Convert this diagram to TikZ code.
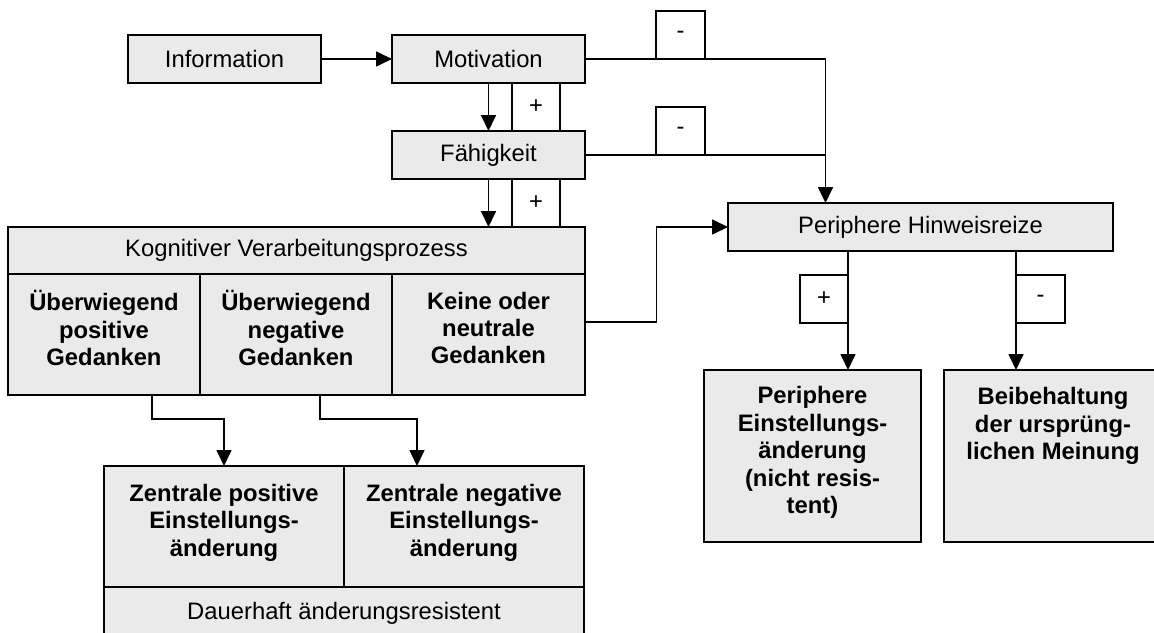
\documentclass[tikz,border=0pt]{standalone}
\usepackage{fontspec}
\setmainfont{Liberation Sans}
\usetikzlibrary{arrows.meta}
\definecolor{boxfill}{RGB}{234,234,234}
\begin{document}
\begin{tikzpicture}[x=1pt,y=-1pt,
  every node/.style={inner sep=0pt, outer sep=0pt},
  txt/.style={font=\fontsize{23.8}{27.4}\selectfont, align=center},
  boldtxt/.style={font=\fontsize{23.8}{27.4}\selectfont\bfseries, align=center},
  cell/.style={draw, line width=1.7pt, fill=boxfill, rectangle},
  signbox/.style={draw, line width=1.7pt, fill=white, rectangle,
    minimum width=48pt, minimum height=48pt, txt},
  conn/.style={line width=1.7pt},
  arr/.style={conn, -{Triangle[length=16pt,width=15pt]}}]
\useasboundingbox (0,0) rectangle (1154,632);
\clip (0,0) rectangle (1154,632);

% sign boxes sit behind the connectors
\node[signbox, minimum width=49pt] (m1) at (680.5,35) {-};
\node[signbox, minimum width=49pt] (m2) at (680.5,131) {-};
\node[signbox] (p1) at (536,107) {+};
\node[signbox] (p2) at (536,203) {+};
\node[signbox] (p3) at (824,299) {+};
\node[signbox, minimum width=49pt] (m3) at (1040.5,299) {-};

% upper chain
\node[cell, txt, minimum width=193pt, minimum height=48pt] (info) at (224.5,59) {Information};
\node[cell, txt, minimum width=193pt, minimum height=48pt] (motiv) at (488.5,59) {Motivation};
\node[cell, txt, minimum width=193pt, minimum height=48pt] (faeh) at (488.5,155) {Fähigkeit};

% cognitive processing block
\node[cell, txt, minimum width=577pt, minimum height=47pt] (kog) at (296.5,250.5) {Kognitiver Verarbeitungsprozess};
\node[cell, minimum width=192pt, minimum height=121pt] (kpos) at (104,334.5) {};
\node[cell, minimum width=192pt, minimum height=121pt] (kneg) at (296,334.5) {};
\node[cell, minimum width=193pt, minimum height=121pt] (kneu) at (488.5,334.5) {};
\node[boldtxt] (kpos-t) at (104,328) {Überwiegend\\positive\\Gedanken};
\node[boldtxt] (kneg-t) at (296,328) {Überwiegend\\negative\\Gedanken};
\node[boldtxt] (kneu-t) at (488.5,328) {Keine oder\\neutrale\\Gedanken};

% central route outcomes
\node[cell, minimum width=240pt, minimum height=121pt] (zpos) at (224,526.5) {};
\node[cell, minimum width=240pt, minimum height=121pt] (zneg) at (464,526.5) {};
\node[boldtxt] (zpos-t) at (224,522.5) {Zentrale positive\\Einstellungs-\\änderung};
\node[boldtxt] (zneg-t) at (464,522.5) {Zentrale negative\\Einstellungs-\\änderung};
\node[cell, txt, minimum width=480pt, minimum height=52pt] (dauer) at (344,613) {Dauerhaft änderungsresistent};

% peripheral route
\node[cell, txt, minimum width=385pt, minimum height=48pt] (phin) at (920.5,227) {Periphere Hinweisreize};
\node[cell, minimum width=217pt, minimum height=172pt] (peinst) at (812.5,456) {};
\node[cell, minimum width=218pt, minimum height=172pt] (beib) at (1053,456) {};
\node[boldtxt] (peinst-t) at (812.5,452.5) {Periphere\\Einstellungs-\\änderung\\(nicht resis-\\tent)};
\node[boldtxt] (beib-t) at (1053,426) {Beibehaltung\\der ursprüng-\\lichen Meinung};

\coordinate (j1) at (825.5,59);
\coordinate (bend) at (656.5,227);

% connectors
\draw[arr] (info.east) -- (motiv.west);
\draw[arr] (motiv.south) -- (faeh.north);
\draw[arr] (faeh.south) -- (faeh.south |- kog.north);
\draw[conn] (motiv.east) -- (j1);
\draw[conn] (faeh.east) -- (j1 |- faeh.east);
\draw[arr] (j1) -- (j1 |- phin.north);
\draw[arr] ([yshift=12.5pt]kneu.east) -| (bend) -- (phin.west);
\draw[arr] (phin.south -| p3.east) -- (p3.east |- peinst.north);
\draw[arr] (phin.south -| m3.west) -- (m3.west |- beib.north);
\draw[arr] ([xshift=48pt]kpos.south) -- ++(0,24) -| (zpos.north);
\draw[arr] ([xshift=24pt]kneg.south) -- ++(0,24) -| ([xshift=-47pt]zneg.north);
\end{tikzpicture}
\end{document}
